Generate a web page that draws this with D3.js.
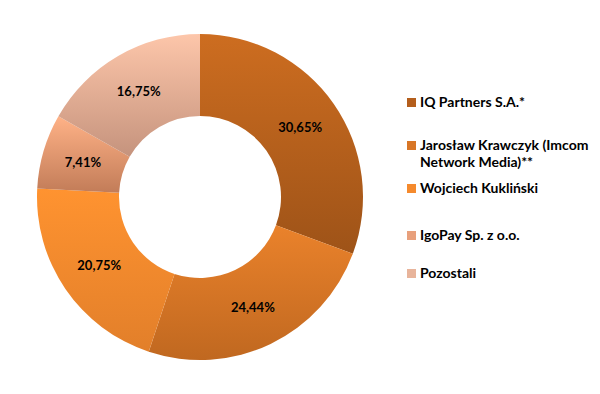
<!DOCTYPE html>
<html>
<head>
<meta charset="utf-8">
<script src="https://d3js.org/d3.v7.min.js"></script>
<style>
  body { margin: 0; background: #fff; }
  text { font-family: Lato, "Open Sans", sans-serif; font-weight: bold; }
</style>
</head>
<body>
<div id="chart"></div>
<script>
// data
var names = ["IQ Partners S.A.*", "Jarosław Krawczyk (Imcom Network Media)**", "Wojciech Kukliński", "IgoPay Sp. z o.o.", "Pozostali"];
var legendLines = [["IQ Partners S.A.*"], ["Jarosław Krawczyk (Imcom", "Network Media)**"], ["Wojciech Kukliński"], ["IgoPay Sp. z o.o."], ["Pozostali"]];
var values = [30.65, 24.44, 20.75, 7.41, 16.75];
var topColors = ["#cd6d20", "#ea822b", "#ff9330", "#ffb287", "#fdc6aa"];
var bottomColors = ["#9e5318", "#c06820", "#e27f2a", "#c27c58", "#c5937d"];
var legendColors = ["#b45e1c", "#d87626", "#f58a2d", "#e8a07c", "#e8b49b"];

var width = 600, height = 394;
var cx = 200, cy = 197, rOut = 163, rIn = 81;

var svg = d3.select("#chart").append("svg")
  .attr("width", width)
  .attr("height", height);

var defs = svg.append("defs");
topColors.forEach(function(c, i) {
  var g = defs.append("linearGradient")
    .attr("id", "grad" + i)
    .attr("gradientUnits", "userSpaceOnUse")
    .attr("x1", 0).attr("y1", cy - rOut)
    .attr("x2", 0).attr("y2", cy + rOut);
  g.append("stop").attr("offset", "0%").attr("stop-color", c);
  g.append("stop").attr("offset", "100%").attr("stop-color", bottomColors[i]);
});

var pie = d3.pie().sort(null).value(function(d) { return d; });
var arc = d3.arc().innerRadius(rIn).outerRadius(rOut);
var labelArc = d3.arc().innerRadius((rIn + rOut) / 2).outerRadius((rIn + rOut) / 2);

var arcs = pie(values);

var g = svg.append("g");
g.selectAll("path")
  .data(arcs)
  .enter()
  .append("path")
  .attr("transform", "translate(" + cx + "," + cy + ")")
  .attr("d", arc)
  .attr("fill", function(d, i) { return "url(#grad" + i + ")"; });

// each slice gets its own top-to-bottom gradient
g.selectAll("path").each(function(d, i) {
  var bb = this.getBBox();
  d3.select("#grad" + i)
    .attr("y1", bb.y)
    .attr("y2", bb.y + bb.height);
});

// data labels
svg.append("g")
  .selectAll("text")
  .data(arcs)
  .enter()
  .append("text")
  .attr("transform", function(d) {
    var c = labelArc.centroid(d);
    return "translate(" + (cx + c[0]) + "," + (cy + c[1]) + ")";
  })
  .attr("text-anchor", "middle")
  .attr("dy", "0.35em")
  .attr("font-size", 13)
  .attr("fill", "#000")
  .text(function(d) { return d.data.toFixed(2).replace(".", ",") + "%"; });

// legend
var legendY = [102, 145, 188, 235, 273];
var legend = svg.append("g");
legendLines.forEach(function(lines, i) {
  legend.append("rect")
    .attr("x", 407)
    .attr("y", legendY[i] - 4)
    .attr("width", 9)
    .attr("height", 9)
    .attr("fill", legendColors[i]);
  var t = legend.append("text")
    .attr("y", legendY[i])
    .attr("font-size", 14)
    .attr("fill", "#000");
  lines.forEach(function(l, j) {
    t.append("tspan")
      .attr("x", 420)
      .attr("dy", j === 0 ? "0.35em" : 17)
      .text(l);
  });
});
</script>
</body>
</html>
